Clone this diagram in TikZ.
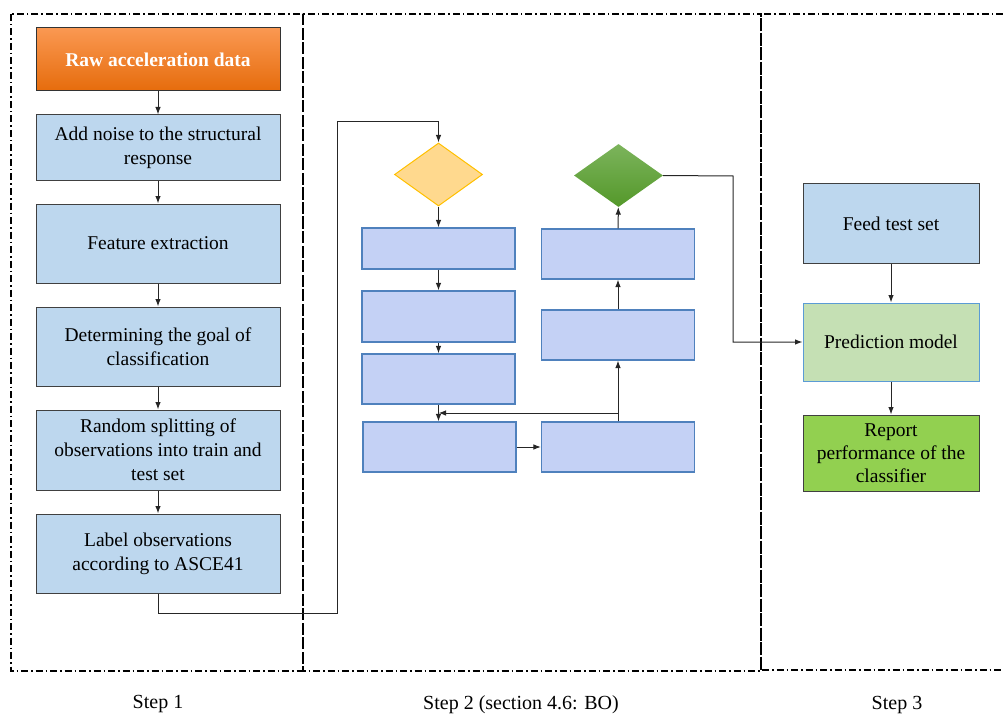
\documentclass[tikz,border=0pt]{standalone}
\usepackage{fontspec}
\setmainfont{Liberation Serif}
\usetikzlibrary{shapes.geometric,arrows.meta,positioning}

\definecolor{stageblue}{RGB}{189,215,238}
\definecolor{stageline}{RGB}{64,64,64}
\definecolor{bofill}{RGB}{196,209,245}
\definecolor{boline}{RGB}{79,129,189}
\definecolor{rawtop}{RGB}{250,152,82}
\definecolor{rawbottom}{RGB}{230,108,12}
\definecolor{yellowfill}{RGB}{255,217,142}
\definecolor{yellowline}{RGB}{255,192,0}
\definecolor{greentop}{RGB}{124,180,92}
\definecolor{greenbottom}{RGB}{84,152,42}
\definecolor{predfill}{RGB}{197,224,180}
\definecolor{predline}{RGB}{91,155,213}
\definecolor{reportfill}{RGB}{146,208,80}

\begin{document}
\begin{tikzpicture}[
            x=1pt, y=-1pt,
            node distance=23pt,
            font=\fontsize{19.5}{24}\selectfont,
            stage/.style={rectangle, draw=stageline, fill=stageblue, line width=1pt, minimum width=244pt, align=center},
            bobox/.style={rectangle, draw=boline, fill=bofill, line width=1.1pt, minimum width=153pt},
            steplabel/.style={font=\fontsize{20}{24}\selectfont},
            frame/.style={line width=1.5pt, dash pattern=on 7pt off 3pt on 1.5pt off 3pt},
            arrow/.style={-{Latex[length=7.5pt,width=5.5pt]}, line width=1pt, draw=black!85}
        ]
            \useasboundingbox (0,0) rectangle (1003,714);

            % frames of the three steps
            \draw[frame] (11,14) rectangle (303,671);
            \draw[frame] (303,14) rectangle (761,671);
            \draw[frame] (1003,14) -- (761,14) -- (761,670) -- (1003,670);

            % step 1
            \node[stage, draw=black!80, top color=rawtop, bottom color=rawbottom, text=white, font=\fontsize{19.5}{24}\selectfont\bfseries, minimum height=63pt] (raw) at (158,59.5) {Raw acceleration data};
            \node[stage, below=of raw, minimum height=66pt] (noise) {Add noise to the structural\\response};
            \node[stage, below=22pt of noise, minimum height=79pt] (feature) {Feature extraction};
            \node[stage, below=of feature, minimum height=79pt] (goal) {Determining the goal of\\classification};
            \node[stage, below=of goal, minimum height=80pt] (split) {Random splitting of\\observations into train and\\test set};
            \node[stage, below=of split, minimum height=79pt] (label) {Label observations\\according to ASCE41};

            % step 2
            \node[diamond, draw=yellowline, fill=yellowfill, line width=1pt, inner sep=0pt, minimum width=88pt, minimum height=63pt] (ydia) at (438.5,174.5) {};
            \node[diamond, draw=none, top color=greentop, bottom color=greenbottom, inner sep=0pt, minimum width=89pt, minimum height=63pt] (gdia) at (618.5,175.5) {};
            \node[bobox, minimum height=41pt] (bo1) at (438.5,248.5) {};
            \node[bobox, minimum height=51pt] (bo2) at (438.5,316.5) {};
            \node[bobox, minimum height=50pt] (bo3) at (438.5,379) {};
            \node[bobox, minimum height=50pt] (bo4) at (439.5,447) {};
            \node[bobox, minimum height=50pt] (br1) at (618,254) {};
            \node[bobox, minimum height=50pt] (br2) at (618,335) {};
            \node[bobox, minimum height=50pt] (br3) at (618,447) {};

            % step 3
            \node[stage, minimum width=176pt, minimum height=79pt] (feed) at (891,223.5) {Feed test set};
            \node[stage, draw=predline, fill=predfill, minimum width=176pt, minimum height=78pt] (pred) at (891,342) {Prediction model};
            \node[stage, fill=reportfill, minimum width=176pt, minimum height=76pt, font=\fontsize{19.5}{23}\selectfont] (report) at (891,453) {Report\\performance of the\\classifier};

            \coordinate (down) at (337,613);
            \coordinate (up) at (337,122);
            \coordinate (back) at (438.5,413);
            \coordinate (turn) at (733,176);

            \draw[arrow] (raw) -- (noise);
            \draw[arrow] (noise) -- (feature);
            \draw[arrow] (feature) -- (goal);
            \draw[arrow] (goal) -- (split);
            \draw[arrow] (split) -- (label);
            \draw[arrow] (label.south) |- (down) -- (up) -| (ydia.north);
            \draw[arrow] (ydia) -- (bo1);
            \draw[arrow] (bo1) -- (bo2);
            \draw[arrow] (bo2) -- (bo3);
            \draw[arrow] (bo3.south) -- (bo3.south |- bo4.north);
            \draw[arrow] (bo4) -- (br3);
            \draw[arrow] (br3.north) |- (back);
            \draw[arrow] (br3) -- (br2);
            \draw[arrow] (br2) -- (br1);
            \draw[arrow] (br1) -- (gdia);
            \draw[arrow] (gdia.east) -- (turn) |- (pred.west);
            \draw[arrow] (feed) -- (pred);
            \draw[arrow] (pred) -- (report);

            % step labels
            \node[steplabel] (s1) at (158,704) {Step 1};
            \node[steplabel] (s2) at (521,705) {Step 2 (section 4.6: BO)};
            \node[steplabel] (s3) at (897,705) {Step 3};
        \end{tikzpicture}
\end{document}
